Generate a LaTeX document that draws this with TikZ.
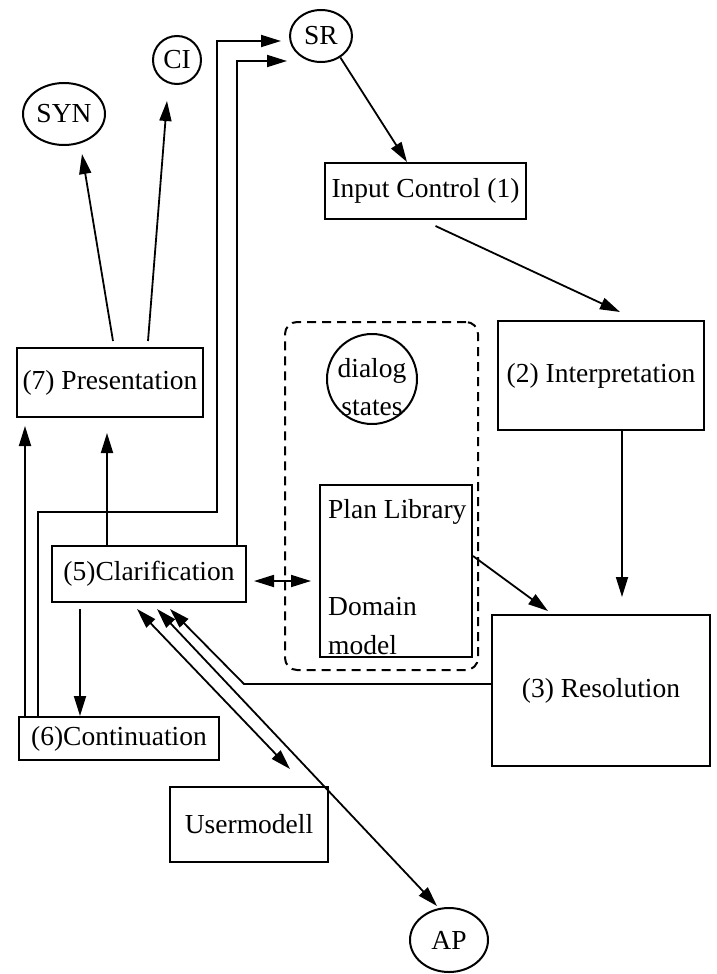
\documentclass[tikz,border=0pt]{standalone}
\usepackage{fontspec}
\setmainfont{Liberation Serif}
\usetikzlibrary{shapes.geometric,arrows.meta}
\begin{document}
\begin{tikzpicture}[x=1pt,y=-1pt,
  every node/.style={font=\fontsize{27.5}{33}\selectfont, inner sep=0pt},
  box/.style={draw, line width=2pt, rectangle},
  oval/.style={draw, line width=2pt, ellipse},
  arr/.style={line width=1.8pt, -{Triangle[length=20pt,width=12pt]}},
  dbl/.style={line width=1.8pt, {Triangle[length=20pt,width=12pt]}-{Triangle[length=20pt,width=12pt]}},
  grp/.style={draw, line width=2pt, dash pattern=on 9pt off 6pt, rounded corners=12pt, rectangle}
]
\useasboundingbox (0,0) rectangle (717,974);

% nodes
\node[oval, minimum width=62pt, minimum height=52pt] (SR) at (321,36) {SR};
\node[draw, circle, line width=2pt, minimum size=48pt] (CI) at (177,60) {CI};
\node[oval, minimum width=82pt, minimum height=62pt] (SYN) at (64,114) {SYN};
\node[box, minimum width=201pt, minimum height=56pt] (IC) at (425.5,191) {Input Control (1)};
\node[box, minimum width=206pt, minimum height=109pt] (Interp) at (601,375.5) {(2) Interpretation};
\node[box, minimum width=186pt, minimum height=69pt] (Pres) at (110,382.5) {(7) Presentation};
\node[box, minimum width=194pt, minimum height=56pt] (Clar) at (149,574) {(5)Clarification};
\node[box, minimum width=200pt, minimum height=43pt] (Cont) at (119,738.5) {(6)Continuation};
\node[box, minimum width=158pt, minimum height=75pt] (UM) at (249,824.5) {Usermodell};
\node[oval, minimum width=78pt, minimum height=64pt] (AP) at (449,940) {AP};
\node[box, minimum width=218pt, minimum height=151pt] (Res) at (601,690.5) {(3) Resolution};

% dialog group
\node[grp, minimum width=193pt, minimum height=348pt] (G) at (381.5,496) {};
\node[draw, circle, line width=2pt, minimum size=90pt] (DS) at (372,379) {};
\node[align=center, font=\fontsize{27.5}{38}\selectfont] (DStext) at (372,387) {dialog\\states};
\node[box, minimum width=152pt, minimum height=172pt] (PL) at (396,571) {};
\node[anchor=west] (PLt) at (328,512) {Plan Library};
\node[anchor=west] (DMt) at (328,607) {Domain};
\node[anchor=west] (MDt) at (328,645) {model};

% connectors
\draw[arr] (SR.-48) -- ([xshift=-18.5pt]IC.north);
\draw[arr] ([xshift=10pt,yshift=-6pt]IC.south) -- ([xshift=19pt,yshift=8pt]Interp.north);
\draw[arr] ([xshift=21pt]Interp.south) -- ([xshift=21pt,yshift=17pt]Res.north);
\draw[arr] ([yshift=15pt]PL.east) -- ([xshift=-53pt,yshift=3pt]Res.north);
\draw[arr] ([yshift=6.5pt]Res.west) -- ++(-247,0) -- ([xshift=21pt,yshift=-6pt]Clar.south);
\draw[dbl] ([xshift=-12pt,yshift=-6pt]Clar.south) -- ([xshift=41pt,yshift=17pt]UM.north);
\draw[dbl] ([xshift=8pt,yshift=-6pt]Clar.south) -- ([xshift=-12pt,yshift=1pt]AP.north);
\draw[arr] ([xshift=-69pt,yshift=-6pt]Clar.south) -- ([xshift=-39pt]Cont.north);
\draw[arr] ([xshift=-42pt]Clar.north) -- ([xshift=-3pt,yshift=-15pt]Pres.south);
\draw[arr] ([xshift=-94pt]Cont.north) -- ([xshift=-85pt,yshift=-8pt]Pres.south);
\coordinate (bend) at (217,512);
\draw[arr] ([xshift=-81pt]Cont.north) |- (bend) |- ([xshift=-8pt,yshift=-5pt]SR.west);
\draw[arr] ([xshift=88pt]Clar.north) |- ([xshift=-2pt,yshift=-25pt]SR.west);
\draw[dbl] ([xshift=7pt,yshift=-7pt]Clar.east) -- ([xshift=-8pt,yshift=-10pt]PL.west);
\draw[arr] ([xshift=3pt,yshift=6pt]Pres.north) -- ([xshift=18pt,yshift=-8pt]SYN.south);
\draw[arr] ([xshift=38pt,yshift=6pt]Pres.north) -- ([xshift=-10pt,yshift=-16pt]CI.south);
\end{tikzpicture}
\end{document}
